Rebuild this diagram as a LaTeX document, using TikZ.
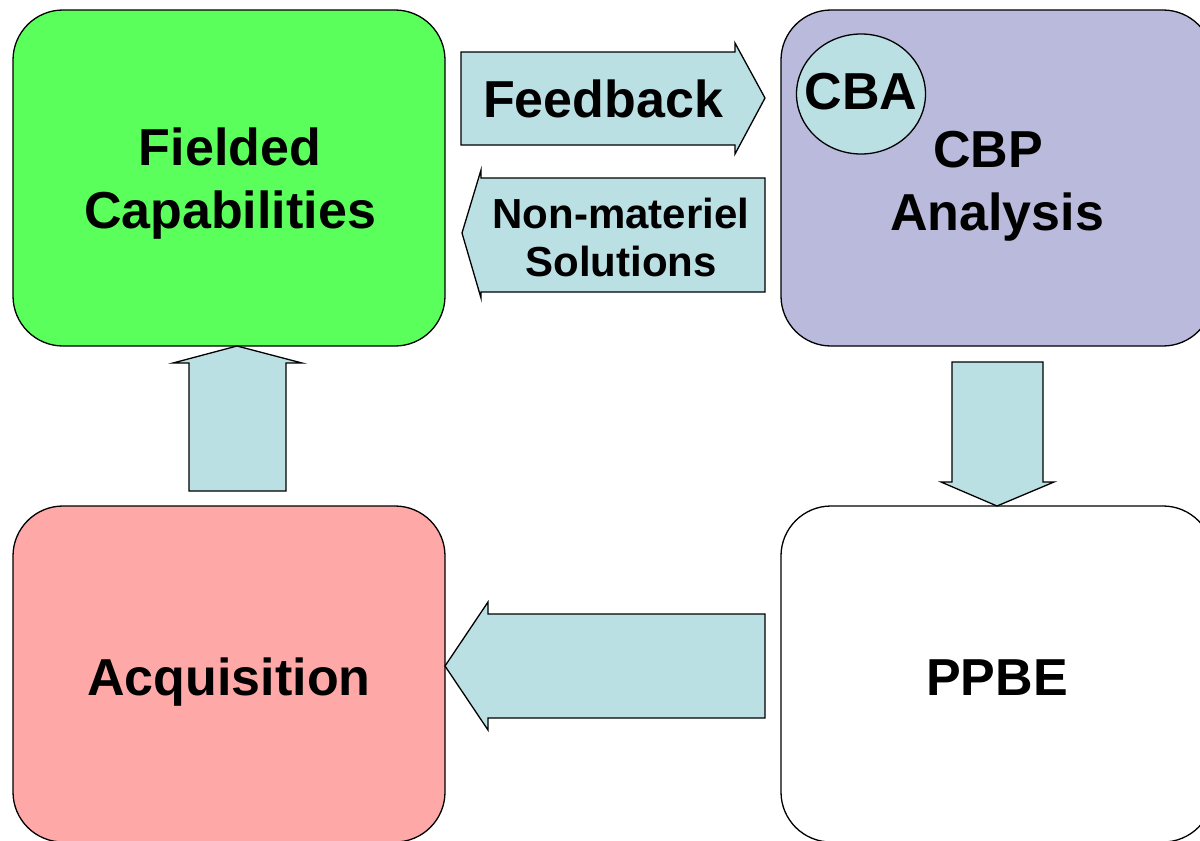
\documentclass[tikz,border=0pt]{standalone}
\usepackage{fontspec}
\setmainfont{Liberation Sans}
\definecolor{fieldgreen}{HTML}{5BFF5B}
\definecolor{cbppurple}{HTML}{BABADC}
\definecolor{acqpink}{HTML}{FFA8A8}
\definecolor{arrowfill}{HTML}{BAE0E3}
\begin{document}
\begin{tikzpicture}[x=1pt,y=-1pt,
  bigbox/.style={draw=black, line width=1.3pt, rounded corners=50pt, minimum width=432pt, minimum height=336pt, inner sep=0pt},
  blockarrow/.style={draw=black, line width=1.3pt, fill=arrowfill, line join=miter},
  bigtext/.style={font=\fontsize{52}{63}\selectfont\bfseries, align=center, inner sep=0pt},
  smalltext/.style={font=\fontsize{42}{48}\selectfont\bfseries, align=center, inner sep=0pt}]
\useasboundingbox (0,0) rectangle (1200,841);
\clip (0,0) rectangle (1200,841);
\fill[white] (0,0) rectangle (1200,841);
% boxes
\node[bigbox, fill=fieldgreen] (fc) at (229,178) {};
\node[bigtext] (fctext) at (230,184) {Fielded\\Capabilities};
\node[bigbox, fill=cbppurple] (cbp) at (997,178) {};
\node[bigtext] (cbptext) at (997,186) {CBP\hspace*{18pt}\\Analysis};
\draw[line width=1.3pt, fill=arrowfill] (861,94) ellipse [x radius=64.5pt, y radius=60pt];
\node[bigtext] (cba) at (861,92) {CBA};
\node[bigbox, fill=white] (ppbe) at (997,674) {};
\node[bigtext] (ppbetext) at (997,678) {PPBE};
\node[bigbox, fill=acqpink] (acq) at (229,674) {};
\node[bigtext] (acqtext) at (229,682) {Acquisition};
% block arrows
\draw[blockarrow] (461,52) -- (735,52) -- (735,43) -- (765,98) -- (735,154) -- (735,145) -- (461,145) -- cycle;
\node[bigtext] (fb) at (603,99) {Feedback};
\draw[blockarrow] (765,178) -- (481,178) -- (481,170) -- (462,233) -- (481,298) -- (481,292) -- (765,292) -- cycle;
\node[smalltext] (nm) at (621,237) {Non-materiel\\Solutions};
\draw[blockarrow] (189,491) -- (189,363) -- (173,363) -- (237,346) -- (302,363) -- (286,363) -- (286,491) -- cycle;
\draw[blockarrow] (952,362) -- (1043,362) -- (1043,482) -- (1054,482) -- (997,506) -- (941,482) -- (952,482) -- cycle;
\draw[blockarrow] (765,614) -- (488,614) -- (488,602) -- (445,666) -- (488,730) -- (488,718) -- (765,718) -- cycle;
\end{tikzpicture}
\end{document}
